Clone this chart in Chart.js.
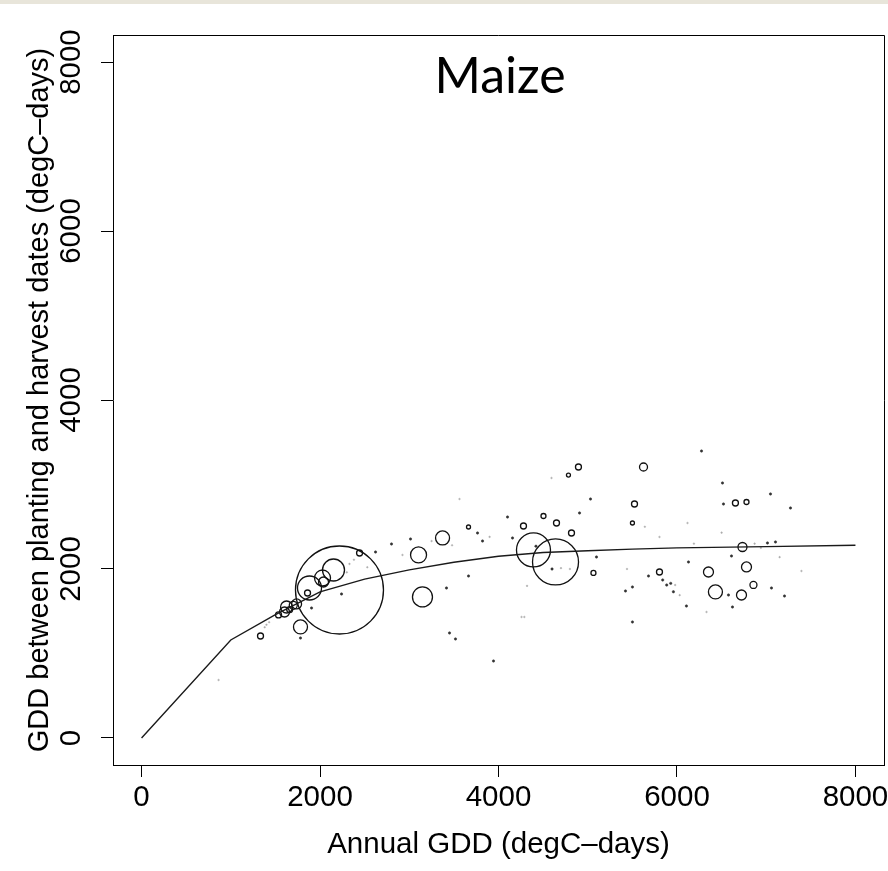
<!DOCTYPE html>
<html>
<head>
<meta charset="utf-8">
<script src="https://cdn.jsdelivr.net/npm/chart.js@4/dist/chart.umd.min.js"></script>
<style>
  html, body { margin: 0; padding: 0; background: #fff; }
  #wrap { width: 888px; height: 871px; }
</style>
</head>
<body>
<div id="wrap"><canvas id="grafico" width="888" height="871"></canvas></div>
<script>
// Eixos
const xTicks = [0, 2000, 4000, 6000, 8000];
const yTicks = [0, 2000, 4000, 6000, 8000];
const xLimites = [-320, 8320];
const yLimites = [-320, 8320];

// Curva ajustada
const curvaX = [0, 1000, 1500, 2000, 2500, 3000, 3500, 4000, 4500, 5000, 5500, 6000, 7000, 8000];
const curvaY = [0, 1160, 1460, 1730, 1880, 1990, 2080, 2150, 2195, 2215, 2235, 2250, 2265, 2280];

// Círculos (tamanho = raio em px)
const circX = [2218, 1882, 2151, 2028, 2039, 1860, 1625, 1602, 1535, 1737, 1781, 1333, 2443, 3104, 3373, 3148, 3664,
  4392, 4639, 4280, 4650, 4504, 4818, 4896, 4784, 5064, 5625, 5524, 5501, 5804, 6353, 6779, 6734, 6857, 6431, 6723,
  6655, 6779, 1700, 1660];
const circY = [1751, 1775, 1988, 1893, 1846, 1716, 1550, 1491, 1456, 1586, 1314, 1207, 2189, 2166, 2367, 1669, 2497,
  2225, 2083, 2509, 2544, 2627, 2426, 3207, 3112, 1953, 3207, 2769, 2544, 1964, 1964, 2024, 2260, 1811, 1728, 1692,
  2781, 2793, 1570, 1520];
const circR = [44, 12, 11, 8, 5, 3, 6, 5, 3, 5, 7, 3, 3, 8, 7, 10, 2,
  17, 23, 3, 3, 2.5, 3, 3, 2, 2.5, 4, 3, 2, 3, 5, 5, 4.5, 3.5, 7, 5,
  3, 2.5, 4, 3];

// Pontos pequenos
const pontoX = [3451, 3518, 3944, 3014, 2801, 3765, 3821, 4157, 4101, 3417, 3664, 5031, 4908, 5098, 5423, 6521, 7048,
  7272, 6510, 6275, 5501, 5501, 6106, 6129, 5681, 6611, 6577, 6622, 7014, 7104, 7059, 7205, 2622, 2241, 1905, 1781,
  5840, 5885, 5930, 5960, 4600, 4420];
const pontoY = [1243, 1172, 911, 2355, 2296, 2426, 2331, 2367, 2615, 1775, 1917, 2828, 2663, 2142, 1740, 2769, 2888,
  2722, 3018, 3396, 1787, 1373, 1562, 2083, 1917, 2154, 1692, 1550, 2308, 2320, 1775, 1680, 2201, 1704, 1538, 1183,
  1870, 1810, 1830, 1730, 2000, 2270];

// Pontos claros
const claroX = [863, 4258, 4290, 3563, 4594, 2924, 5804, 6118, 5980, 6030, 6331, 7395, 1400, 1430, 1380, 2330, 2300,
  2380, 4700, 4800, 5440, 6190, 6870, 6940, 6500, 3900, 2530, 3250, 3480, 4320, 7150, 5640];
const claroY = [686, 1432, 1432, 2828, 3077, 2166, 2379, 2544, 1810, 1690, 1491, 1976, 1340, 1370, 1310, 2060, 1960,
  2110, 2010, 2000, 2000, 2300, 2300, 2250, 2430, 2380, 2020, 2330, 2280, 1800, 2140, 2500];

const FONTE = '"Liberation Sans", Arial, Helvetica, sans-serif';

function montar(xs, ys, rs, rFixo) {
  return xs.map((x, i) => ({ x: x, y: ys[i], r: rs ? rs[i] : rFixo }));
}

const moldura = {
  id: 'moldura',
  beforeDraw(chart) {
    const ctx = chart.ctx;
    ctx.save();
    ctx.fillStyle = '#e8e5da';
    ctx.fillRect(0, 0, chart.width, 4);
    ctx.restore();
  },
  afterDraw(chart) {
    const ctx = chart.ctx;
    const a = chart.chartArea;
    const sx = chart.scales.x;
    const sy = chart.scales.y;
    ctx.save();
    // lados de cima e direita da caixa
    ctx.strokeStyle = '#000';
    ctx.lineWidth = 1;
    ctx.beginPath();
    ctx.moveTo(a.left, a.top + 0.5);
    ctx.lineTo(a.right + 0.5, a.top + 0.5);
    ctx.lineTo(a.right + 0.5, a.bottom);
    ctx.stroke();

    ctx.fillStyle = '#000';
    ctx.font = '29.5px ' + FONTE;
    ctx.textAlign = 'center';
    ctx.textBaseline = 'middle';
    xTicks.forEach(v => ctx.fillText(String(v), sx.getPixelForValue(v), 798));
    ctx.fillText('Annual GDD (degC\u2013days)', (a.left + a.right) / 2, 845);

    yTicks.forEach(v => {
      ctx.save();
      ctx.translate(72, sy.getPixelForValue(v));
      ctx.rotate(-Math.PI / 2);
      ctx.fillText(String(v), 0, 0);
      ctx.restore();
    });
    ctx.save();
    ctx.font = '29px ' + FONTE;
    ctx.translate(40, (a.top + a.bottom) / 2);
    ctx.rotate(-Math.PI / 2);
    ctx.fillText('GDD between planting and harvest dates (degC\u2013days)', 0, 0);
    ctx.restore();

    ctx.font = '50px Lato, "Open Sans", sans-serif';
    ctx.textBaseline = 'alphabetic';
    ctx.fillText('Maize', 500, 93);
    ctx.restore();
  }
};

new Chart(document.getElementById('grafico'), {
  type: 'bubble',
  data: {
    datasets: [
      {
        type: 'line',
        label: 'curva',
        data: curvaX.map((x, i) => ({ x: x, y: curvaY[i] })),
        borderColor: '#1a1a1a',
        borderWidth: 1.4,
        pointRadius: 0,
        tension: 0,
        fill: false
      },
      {
        label: 'circulos',
        data: montar(circX, circY, circR),
        backgroundColor: 'rgba(0,0,0,0)',
        borderColor: '#111',
        borderWidth: 1.3
      },
      {
        label: 'pontos',
        data: montar(pontoX, pontoY, null, 1.2),
        backgroundColor: '#333',
        borderColor: '#333',
        borderWidth: 0.5
      },
      {
        label: 'claros',
        data: montar(claroX, claroY, null, 0.8),
        backgroundColor: '#aaa',
        borderColor: '#aaa',
        borderWidth: 0.5
      }
    ]
  },
  options: {
    responsive: false,
    animation: false,
    events: [],
    layout: { autoPadding: false, padding: { top: 35, right: 4, left: 0, bottom: 0 } },
    plugins: { legend: { display: false }, tooltip: { enabled: false } },
    scales: {
      x: {
        type: 'linear',
        min: xLimites[0],
        max: xLimites[1],
        afterBuildTicks: s => { s.ticks = xTicks.map(v => ({ value: v })); },
        afterFit: s => { s.height = 106; },
        ticks: { display: false },
        grid: { display: true, drawOnChartArea: false, drawTicks: true, tickLength: 12, color: '#000', lineWidth: 1 },
        border: { display: true, color: '#000', width: 1 }
      },
      y: {
        type: 'linear',
        min: yLimites[0],
        max: yLimites[1],
        afterBuildTicks: s => { s.ticks = yTicks.map(v => ({ value: v })); },
        afterFit: s => { s.width = 113; },
        ticks: { display: false },
        grid: { display: true, drawOnChartArea: false, drawTicks: true, tickLength: 12, color: '#000', lineWidth: 1 },
        border: { display: true, color: '#000', width: 1 }
      }
    }
  },
  plugins: [moldura]
});
</script>
</body>
</html>
